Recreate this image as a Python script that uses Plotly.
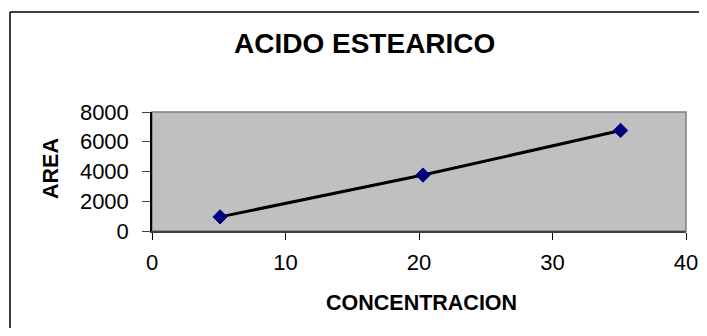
import plotly.graph_objects as go

concentracion = [5.1, 20.3, 35.1]
area = [950, 3760, 6760]
x_ticks = [0, 10, 20, 30, 40]
y_ticks = [0, 2000, 4000, 6000, 8000]

# page body has an 8px margin on every side; keep the figure inside the
# window (no scrollbars) and offset all positions by 8px
OFF = 8
W, H = 707 - 2 * OFF, 336 - 2 * OFF
L = 152 - OFF
T = 112 - OFF
R = W - (686 - OFF)
B = H - (231 - OFF)
PW, PH = W - L - R, H - T - B


def px(xp):
    return (xp - OFF - L) / PW


def py(yp):
    return (H - B - (yp - OFF)) / PH


fig = go.Figure()
fig.add_trace(go.Scatter(
    x=concentracion, y=area, mode="lines+markers",
    line=dict(color="black", width=3),
    marker=dict(symbol="diamond", size=11, color="#000080",
                line=dict(color="#000080", width=1)),
    showlegend=False, cliponaxis=False,
))

font = "Liberation Sans, Arial, sans-serif"
fig.update_layout(
    width=W, height=H,
    margin=dict(l=L, r=R, t=T, b=B, pad=0, autoexpand=False),
    paper_bgcolor="white", plot_bgcolor="#C0C0C0",
    font=dict(family=font, color="black", size=22),
    xaxis=dict(range=[0, 40], tickvals=x_ticks, ticks="outside", ticklen=7,
               tickcolor="black", tickwidth=1, showgrid=False, zeroline=False,
               showline=True, linecolor="#404040", linewidth=2,
               mirror=False, tickfont=dict(size=22), fixedrange=True,
               ticklabelstandoff=4),
    yaxis=dict(range=[0, 8000], tickvals=y_ticks, ticks="outside", ticklen=8,
               tickcolor="#404040", tickwidth=1, showgrid=False, zeroline=False,
               showline=True, linecolor="black", linewidth=1.5,
               tickfont=dict(size=22), fixedrange=True,
               ticklabelstandoff=9),
    shapes=[
        dict(type="rect", xref="paper", yref="paper", x0=0, x1=1, y0=0, y1=1,
             line=dict(color="#808080", width=1.5), layer="below"),
        # outer chart frame: only top and left edges visible
        dict(type="line", xref="paper", yref="paper",
             x0=px(10), x1=px(OFF + W), y0=py(12), y1=py(12),
             line=dict(color="black", width=1.5)),
        dict(type="line", xref="paper", yref="paper",
             x0=px(10), x1=px(10), y0=py(12), y1=py(OFF + H),
             line=dict(color="black", width=1.5)),
    ],
    annotations=[
        dict(text="<b>ACIDO ESTEARICO</b>", xref="paper", yref="paper",
             x=px(364), y=py(43),
             xanchor="center", yanchor="middle", showarrow=False,
             font=dict(size=28, family=font)),
        dict(text="<b>CONCENTRACION</b>", xref="paper", yref="paper",
             x=px(421), y=py(303),
             xanchor="center", yanchor="middle", showarrow=False,
             font=dict(size=21.5, family=font)),
        dict(text="<b>AREA</b>", xref="paper", yref="paper",
             x=px(51), y=py(169),
             xanchor="center", yanchor="middle", showarrow=False, textangle=-90,
             font=dict(size=21.5, family=font)),
    ],
)

fig.write_html("out.html")
